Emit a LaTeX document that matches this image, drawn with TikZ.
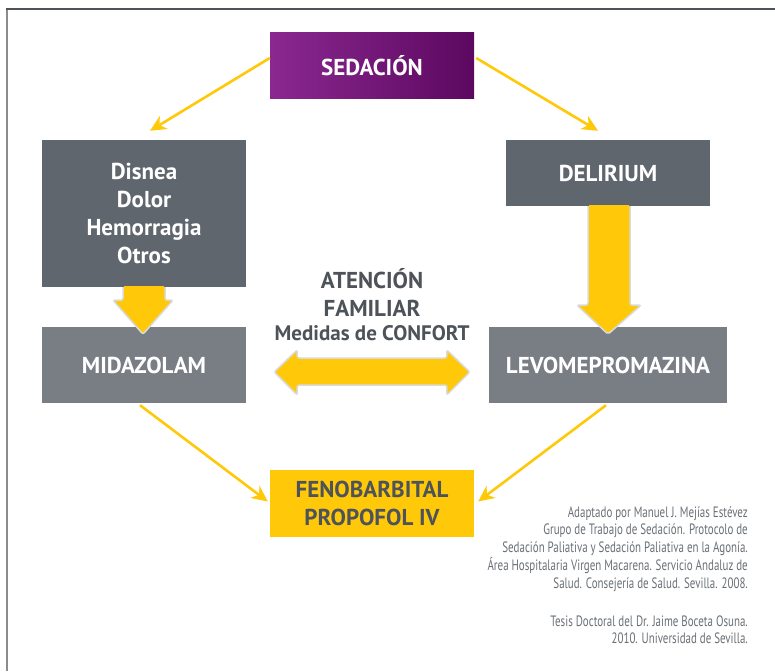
\documentclass[tikz,border=0pt]{standalone}
\usepackage{fontspec}
\setmainfont{PT Sans}
\newfontfamily\citefont[FakeStretch=0.73]{PT Sans}
\usetikzlibrary{arrows.meta,calc}
\definecolor{ylw}{HTML}{FFC90A}
\definecolor{darkbox}{HTML}{5F666D}
\definecolor{lightbox}{HTML}{787E84}
\definecolor{txtgray}{HTML}{4D5358}
\definecolor{citegray}{HTML}{6A7076}
\definecolor{purpL}{HTML}{8A2890}
\definecolor{purpR}{HTML}{5C0860}
\definecolor{outl}{HTML}{DADADA}
\tikzset{
  box/.style={rectangle, inner sep=0pt, align=center, font=\bfseries\fontsize{23}{28}\selectfont, text=white},
  dbox/.style={box, fill=darkbox},
  lbox/.style={box, fill=lightbox},
  thinarrow/.style={draw=ylw, line width=2.6pt, -{Stealth[length=16pt,width=15pt,inset=5pt]}},
  blockarrow/.style={fill=ylw, draw=outl, line width=1.5pt, rounded corners=2pt},
  lbl/.style={font=\bfseries\fontsize{23}{28}\selectfont, text=txtgray, align=center}
}
\begin{document}
\begin{tikzpicture}[x=1pt,y=-1pt]
\useasboundingbox (0,0) rectangle (775,671);
\fill[white] (0,0) rectangle (775,671);
% frame
\draw[line width=2pt, color=gray!90] (7,671) -- (7,9);
\draw[line width=2.2pt, color=txtgray] (6,9) -- (775,9);
% nodes
\node[box, minimum width=204pt, minimum height=66pt, left color=purpL, right color=purpR] (sed) at (372,66) {SEDACIÓN};
\node[dbox, minimum width=204pt, minimum height=147pt] (dis) at (144,213.5) {Disnea\\Dolor\\Hemorragia\\Otros};
\node[dbox, minimum width=204pt, minimum height=66pt] (del) at (608,173) {DELIRIUM};
\node[lbox, minimum width=204pt, minimum height=76pt] (mid) at (144,365) {MIDAZOLAM};
\node[lbox, minimum width=238pt, minimum height=76pt] (levo) at (608,365) {LEVOMEPROMAZINA};
\node[box, fill=ylw, text=txtgray, minimum width=204pt, minimum height=67pt] (feno) at (372,503.5) {FENOBARBITAL\\PROPOFOL IV};
\node[lbl, anchor=center] (aten) at (372,292) {ATENCIÓN\\FAMILIAR};
\node[lbl, font=\bfseries\fontsize{21}{24}\selectfont, anchor=center] (conf) at (372,333) {Medidas de CONFORT};
% thin arrows
\draw[thinarrow] ($(sed.west)+(0,-8)$) -- ($(dis.north)+(6,-9)$);
\draw[thinarrow] ($(sed.east)+(2,-8)$) -- ($(del.north)+(-10,-9)$);
\draw[thinarrow] ($(mid.south)+(-4,2)$) -- ($(feno.west)+(-2,-2)$);
\draw[thinarrow] ($(levo.south)+(-2,2)$) -- ($(feno.east)+(4,-2)$);
% block arrow dis -> mid
\draw[blockarrow] ($(dis.south)+(-21,0)$) -- ($(dis.south)+(-21,13)$) -- ($(dis.south)+(-31,13)$) -- ($(dis.south)+(-1,47)$)
   -- ($(dis.south)+(29,13)$) -- ($(dis.south)+(21,13)$) -- ($(dis.south)+(21,0)$);
\fill[ylw] ($(dis.south)+(-20,-1)$) rectangle ($(dis.south)+(20,2)$);
% block arrow del -> levo
\draw[blockarrow] ($(del.south)+(-20,0)$) -- ($(del.south)+(-20,99)$) -- ($(del.south)+(-31,99)$) -- ($(del.south)+(0,128)$)
   -- ($(del.south)+(33,99)$) -- ($(del.south)+(22,99)$) -- ($(del.south)+(22,0)$);
\fill[ylw] ($(del.south)+(-19,-1)$) rectangle ($(del.south)+(21,2)$);
% double arrow
\coordinate (dl) at ($(mid.east)+(28,7)$);
\coordinate (dr) at ($(levo.west)+(-19,7)$);
\draw[blockarrow] (dl) -- ($(dl)+(23,-22)$) -- ($(dl)+(23,-14)$) -- ($(dr)+(-23,-14)$) -- ($(dr)+(-23,-22)$) -- (dr)
   -- ($(dr)+(-23,23)$) -- ($(dr)+(-23,13)$) -- ($(dl)+(23,13)$) -- ($(dl)+(23,23)$) -- cycle;
% citation
\node[anchor=north east, align=right, inner sep=0pt, text=citegray, font=\citefont\fontsize{15}{17.9}\selectfont] (cite) at (748,506)
 {Adaptado por Manuel J. Mejías Estévez\\
  Grupo de Trabajo de Sedación. Protocolo de\\
  Sedación Paliativa y Sedación Paliativa en la Agonía.\\
  Área Hospitalaria Virgen Macarena. Servicio Andaluz de\\
  Salud. Consejería de Salud. Sevilla. 2008.\\[19.5pt]
  Tesis Doctoral del Dr. Jaime Boceta Osuna.\\
  2010. Universidad de Sevilla.};
\end{tikzpicture}
\end{document}
